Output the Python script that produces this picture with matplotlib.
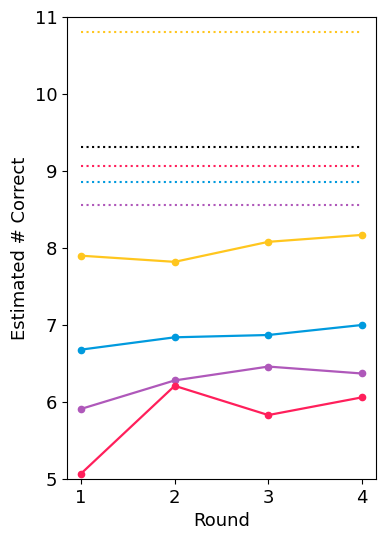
import matplotlib

matplotlib.use("Agg")
import matplotlib.pyplot as plt  # noqa: E402

rounds = [1, 2, 3, 4]

# per-round estimates, one list per condition
yellow_vals = [7.90, 7.82, 8.08, 8.17]
blue_vals = [6.68, 6.84, 6.87, 7.00]
purple_vals = [5.91, 6.28, 6.46, 6.37]
pink_vals = [5.07, 6.21, 5.83, 6.06]

# reference levels drawn as dotted lines
yellow_ref = 10.81
black_ref = 9.31
pink_ref = 9.06
blue_ref = 8.86
purple_ref = 8.56

YELLOW = "#ffc61e"
BLUE = "#009ade"
PURPLE = "#af58ba"
PINK = "#ff1f5b"

plt.rcParams["font.size"] = 13

fig = plt.figure(figsize=(3.86, 5.4), dpi=100)
ax = fig.add_axes([0.1736, 0.113, 0.8004, 0.8555])

for ref, color in [(yellow_ref, YELLOW), (black_ref, "black"), (pink_ref, PINK),
                   (blue_ref, BLUE), (purple_ref, PURPLE)]:
    ax.plot(rounds, [ref] * len(rounds), linestyle=":", color=color, linewidth=1.5)

for vals, color in [(yellow_vals, YELLOW), (blue_vals, BLUE),
                    (purple_vals, PURPLE), (pink_vals, PINK)]:
    ax.plot(rounds, vals, marker="o", markersize=4.5, color=color, linewidth=1.6)

ax.set_ylim(5, 11)
ax.set_xticks(rounds)
ax.set_xlabel("Round")
ax.set_ylabel("Estimated # Correct")

fig.savefig("out.png", dpi=100)
